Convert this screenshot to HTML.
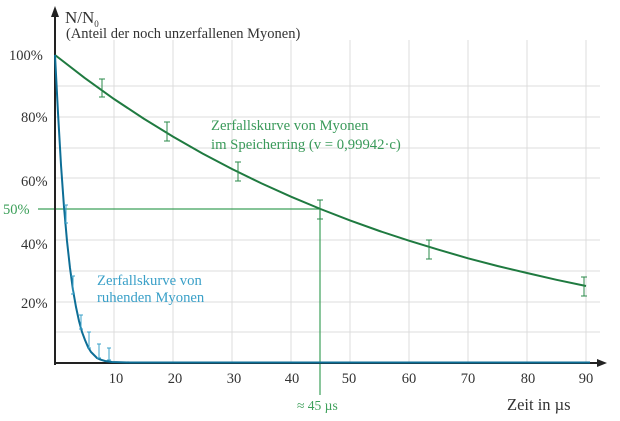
<!DOCTYPE html>
<html><head><meta charset="utf-8"><style>
body{margin:0;background:#fff}
svg{display:block;font-family:"Liberation Serif",serif}
</style></head><body>
<svg width="620" height="421" viewBox="0 0 620 421" xmlns="http://www.w3.org/2000/svg">
<g stroke="#dcdcdc" stroke-width="1">
<line x1="114" y1="40" x2="114" y2="363"/><line x1="173" y1="40" x2="173" y2="363"/>
<line x1="232" y1="40" x2="232" y2="363"/><line x1="291" y1="40" x2="291" y2="363"/>
<line x1="350" y1="40" x2="350" y2="363"/><line x1="409" y1="40" x2="409" y2="363"/>
<line x1="468" y1="40" x2="468" y2="363"/><line x1="527" y1="40" x2="527" y2="363"/>
<line x1="586" y1="40" x2="586" y2="363"/>
<line x1="55" y1="86" x2="600" y2="86"/><line x1="55" y1="117" x2="600" y2="117"/>
<line x1="55" y1="148" x2="600" y2="148"/><line x1="55" y1="178" x2="600" y2="178"/>
<line x1="55" y1="240" x2="600" y2="240"/><line x1="55" y1="271" x2="600" y2="271"/>
<line x1="55" y1="302" x2="600" y2="302"/><line x1="55" y1="332" x2="600" y2="332"/>
</g>
<line x1="38" y1="209" x2="320" y2="209" stroke="#3da05a" stroke-width="1.2"/>
<line x1="320" y1="209" x2="320" y2="395" stroke="#3da05a" stroke-width="1.2"/>
<line x1="55" y1="363" x2="600" y2="363" stroke="#222" stroke-width="2"/>
<polygon points="607,363 597,359 597,367" fill="#222"/>
<line x1="55" y1="365" x2="55" y2="14" stroke="#222" stroke-width="2"/>
<polygon points="55,6 51,17 59,17" fill="#222"/>
<path fill="none" stroke="#1f7a40" stroke-width="2" d="M55,55 L84.5,77.8 L114,99 L143.5,118.5 L173,136.6 L202.5,153.5 L232,169 L261.5,183.4 L291,196.7 L320.5,209 L350,220.4 L379.5,231 L409,240.7 L438.5,249.7 L468,258.3 L497.5,266 L527,273 L556.5,279.8 L586,286"/>
<g fill="none" stroke="#0d6e96" stroke-width="2"><path d="M55,55 L58,113 L61,165 L64,207 L67,241 L70,268 L73,290 L76,307 L79,321 L82,332 L85,340 L88,347 L91,352 L94,355 L97,358 L100,359.5 L105,361 L112,362 L130,362.5 L590,362.5"/></g>
<g stroke="#2a8a4a" stroke-width="1">
<path d="M102,79v18M99,79h6M99,97h6"/><path d="M167,122v19M164,122h6M164,141h6"/>
<path d="M238,162v19M235,162h6M235,181h6"/><path d="M320,200v19M317,200h6M317,219h6"/>
<path d="M429,240v19M426,240h6M426,259h6"/><path d="M584,277v19M581,277h6M581,296h6"/>
</g>
<g stroke="#3aa0c8" stroke-width="1">
<path d="M66,205v18M64,205h4M64,223h4"/><path d="M73,276v18M71,276h4M71,294h4"/>
<path d="M81,315v14M79,315h4M79,329h4"/><path d="M89,332v16M87,332h4M87,348h4"/>
<path d="M99,344v14M97,344h4M97,358h4"/><path d="M109,348v12M107,348h4M107,360h4"/>
</g>
<g fill="#333" font-size="14.5">
<text x="65" y="23" font-size="17">N/N<tspan font-size="9" dy="4">0</tspan></text>
<text x="66" y="38" font-size="14.5">(Anteil der noch unzerfallenen Myonen)</text>
<text x="9" y="60">100%</text><text x="21" y="122">80%</text><text x="21" y="186">60%</text>
<text x="21" y="249">40%</text><text x="21" y="308">20%</text>
<g text-anchor="middle"><text x="116" y="383">10</text><text x="175" y="383">20</text><text x="234" y="383">30</text><text x="292" y="383">40</text><text x="349" y="383">50</text><text x="409" y="383">60</text><text x="468" y="383">70</text><text x="528" y="383">80</text><text x="586" y="383">90</text></g>
<text x="507" y="410" font-size="16.5">Zeit in µs</text>
</g>
<text x="3" y="214" fill="#3da05a" font-size="14.5">50%</text>
<text x="297" y="410" fill="#3da05a" font-size="13.5">≈ 45 µs</text>
<text x="211" y="130" fill="#3a9a5a" font-size="14.7">Zerfallskurve von Myonen</text>
<text x="211" y="149" fill="#3a9a5a" font-size="14.7">im Speicherring (v = 0,99942·c)</text>
<text x="97" y="285" fill="#3aa0c8" font-size="14.7">Zerfallskurve von</text>
<text x="97" y="302" fill="#3aa0c8" font-size="14.7">ruhenden Myonen</text>
</svg>
</body></html>
